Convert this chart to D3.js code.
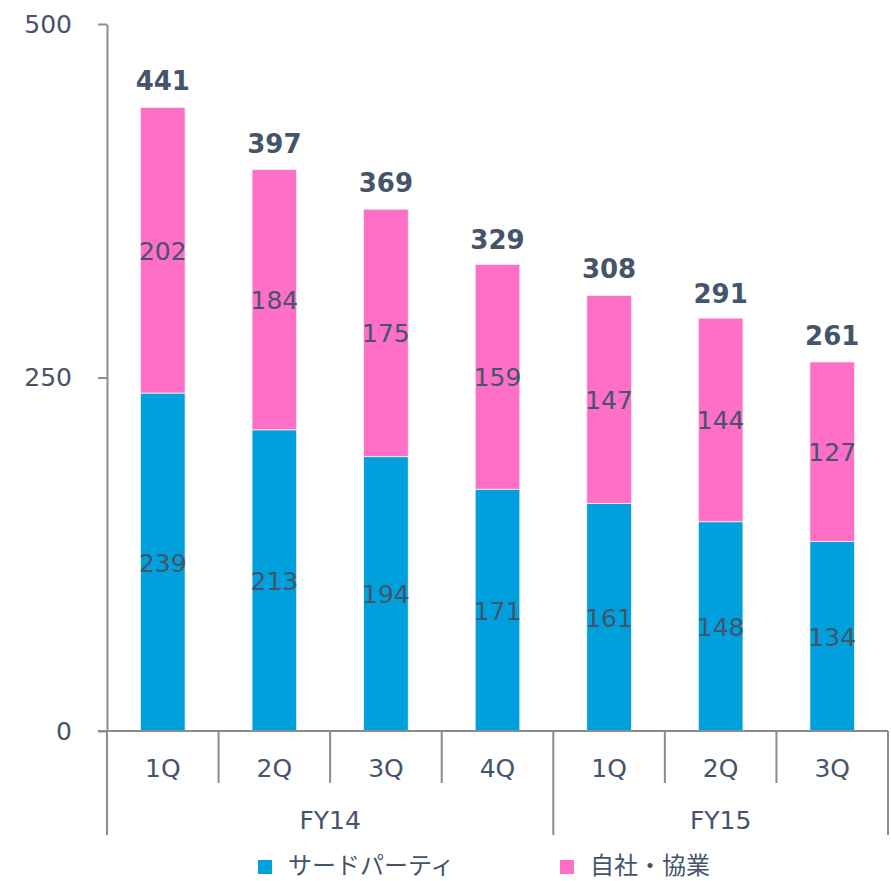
<!DOCTYPE html>
<html>
<head>
<meta charset="utf-8">
<script src="https://cdn.jsdelivr.net/npm/d3@7"></script>
<style>
  body { margin: 0; background: #fff; }
  text { font-family: "DejaVu Sans", Verdana, sans-serif; fill: #44546a; }
</style>
</head>
<body>
<div id="chart"></div>
<script>
// quarters and fiscal years
var quarters = ["1Q", "2Q", "3Q", "4Q", "1Q", "2Q", "3Q"];
var fiscalYears = ["FY14", "FY14", "FY14", "FY14", "FY15", "FY15", "FY15"];

// series values
var thirdParty = [239, 213, 194, 171, 161, 148, 134];
var ownCollab = [202, 184, 175, 159, 147, 144, 127];
var totals = [441, 397, 369, 329, 308, 291, 261];

var yTicks = [0, 250, 500];
var seriesNames = ["サードパーティ", "自社・協業"];
var colors = ["#00a0dc", "#ff6fc8"];

var width = 891;
var height = 881;
var plotLeft = 107, plotRight = 888, plotTop = 24, plotBottom = 731;

var svg = d3.select("#chart")
    .append("svg")
    .attr("width", width)
    .attr("height", height);

var x = d3.scaleBand()
    .domain(d3.range(quarters.length))
    .range([plotLeft, plotRight])
    .paddingInner(0.6)
    .paddingOuter(0.3);

var y = d3.scaleLinear()
    .domain([0, 500])
    .range([plotBottom, plotTop]);

var step = x.step();

// stacked data
var rows = quarters.map(function (q, i) {
    return { i: i, a: thirdParty[i], b: ownCollab[i] };
});
var stacked = d3.stack().keys(["a", "b"])(rows);

var axisColor = "#8c8c8c";

// y axis
var yAxis = svg.append("g")
    .attr("transform", "translate(" + plotLeft + ",0)")
    .call(d3.axisLeft(y).tickValues(yTicks).tickSize(9).tickSizeOuter(0).tickPadding(26));
yAxis.select(".domain").attr("stroke", axisColor).attr("stroke-width", 2);
yAxis.selectAll(".tick line").attr("stroke", axisColor).attr("stroke-width", 2);
yAxis.selectAll(".tick text")
    .style("font-family", "DejaVu Sans, sans-serif")
    .style("font-size", "25px")
    .attr("fill", "#44546a");

// bars
svg.selectAll(".series")
    .data(stacked)
    .enter().append("g")
    .attr("fill", function (d, k) { return colors[k]; })
    .selectAll("rect")
    .data(function (d) { return d; })
    .enter().append("rect")
    .attr("x", function (d) { return x(d.data.i); })
    .attr("width", x.bandwidth())
    .attr("y", function (d) { return y(d[1]); })
    .attr("height", function (d) { return y(d[0]) - y(d[1]); })
    .attr("stroke", "#f2f2f2")
    .attr("stroke-width", 0.8);

// segment labels
stacked.forEach(function (s) {
    svg.selectAll(null)
        .data(s)
        .enter().append("text")
        .attr("x", function (d) { return x(d.data.i) + x.bandwidth() / 2; })
        .attr("y", function (d) { return y((d[0] + d[1]) / 2) + 1; })
        .attr("text-anchor", "middle")
        .attr("dominant-baseline", "central")
        .style("font-size", "25px")
        .text(function (d) { return d[1] - d[0]; });
});

// totals
svg.selectAll(".total")
    .data(totals)
    .enter().append("text")
    .attr("x", function (d, i) { return x(i) + x.bandwidth() / 2; })
    .attr("y", function (d) { return y(d) - 17; })
    .attr("text-anchor", "middle")
    .style("font-size", "26px")
    .style("font-weight", "bold")
    .text(function (d) { return d; });

// x axis line
svg.append("line")
    .attr("x1", plotLeft - 9).attr("x2", plotRight)
    .attr("y1", y(0)).attr("y2", y(0))
    .attr("stroke", axisColor).attr("stroke-width", 2);

// category separators
for (var k = 0; k <= quarters.length; k++) {
    var isYearEdge = k === 0 || k === quarters.length || fiscalYears[k] !== fiscalYears[k - 1];
    svg.append("line")
        .attr("x1", plotLeft + k * step).attr("x2", plotLeft + k * step)
        .attr("y1", y(0)).attr("y2", isYearEdge ? 835 : 783)
        .attr("stroke", axisColor).attr("stroke-width", 2);
}

// quarter labels
svg.selectAll(".q")
    .data(quarters)
    .enter().append("text")
    .attr("x", function (d, i) { return x(i) + x.bandwidth() / 2; })
    .attr("y", 768)
    .attr("text-anchor", "middle")
    .attr("dominant-baseline", "central")
    .style("font-size", "25px")
    .text(function (d) { return d; });

// fiscal year labels
var years = Array.from(new Set(fiscalYears));
years.forEach(function (fy) {
    var idx = fiscalYears.map(function (f, i) { return f === fy ? i : -1; }).filter(function (i) { return i >= 0; });
    var x0 = plotLeft + idx[0] * step;
    var x1 = plotLeft + (idx[idx.length - 1] + 1) * step;
    svg.append("text")
        .attr("x", (x0 + x1) / 2)
        .attr("y", 820)
        .attr("text-anchor", "middle")
        .attr("dominant-baseline", "central")
        .style("font-size", "25px")
        .text(fy);
});

// legend
var legendX = [258, 560];
seriesNames.forEach(function (name, k) {
    svg.append("rect")
        .attr("x", legendX[k]).attr("y", 860)
        .attr("width", 14).attr("height", 14)
        .attr("fill", colors[k]);
    svg.append("text")
        .attr("x", legendX[k] + 30)
        .attr("y", 863)
        .attr("dominant-baseline", "central")
        .style("font-family", "'Noto Sans CJK JP', sans-serif")
        .style("font-size", "24px")
        .text(name);
});
</script>
</body>
</html>
